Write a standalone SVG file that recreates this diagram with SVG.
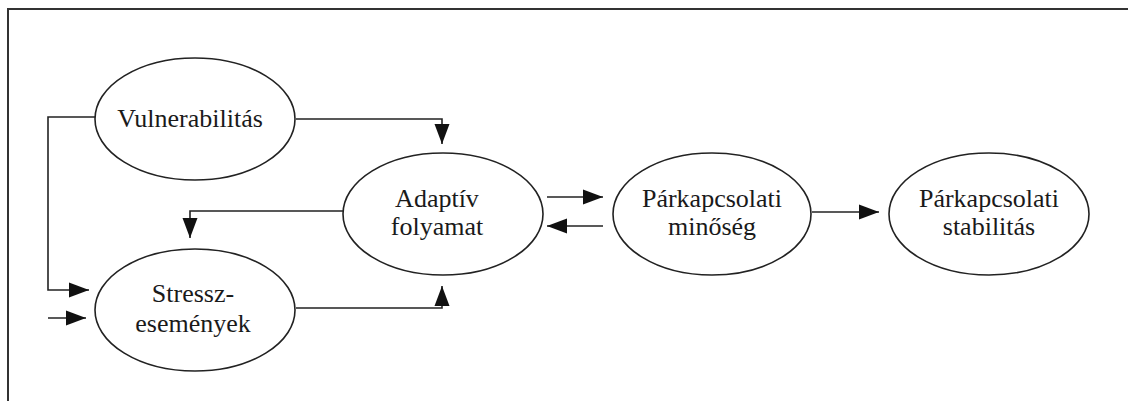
<svg xmlns="http://www.w3.org/2000/svg" width="1128" height="401" viewBox="0 0 1128 401">
<style>
.node ellipse{fill:#fff;stroke:#222;stroke-width:1.6}
.node text{font-family:'Liberation Serif','Tinos','Times New Roman','DejaVu Serif',serif;font-size:26px;fill:#1a1a1a;text-anchor:middle}
.conn path{fill:none;stroke:#222;stroke-width:1.6}
.frame{fill:none;stroke:#333;stroke-width:2}
</style>
<defs>
<marker id="arr" markerUnits="userSpaceOnUse" markerWidth="21" markerHeight="18" refX="20" refY="9" orient="auto">
<path d="M0,1.5 L20,9 L0,16.5 z" fill="#111"/>
</marker>
</defs>
<rect width="1128" height="401" fill="#fff"/>
<path class="frame" d="M8,401 V9 H1128"/>
<g class="conn">
<path d="M95,117 H48 V290 H89" marker-end="url(#arr)"/>
<path d="M48,318 H86" marker-end="url(#arr)"/>
<path d="M296,119 H442 V144" marker-end="url(#arr)"/>
<path d="M343,211 H190 V238" marker-end="url(#arr)"/>
<path d="M296,308 H442 V286" marker-end="url(#arr)"/>
<path d="M547,197 H603" marker-end="url(#arr)"/>
<path d="M603,226 H547" marker-end="url(#arr)"/>
<path d="M812,212 H879" marker-end="url(#arr)"/>
</g>
<g class="node" id="vulnerabilitas">
<ellipse cx="195" cy="119" rx="100" ry="61"/>
<text x="190" y="127">Vulnerabilitás</text>
</g>
<g class="node" id="stressz">
<ellipse cx="195" cy="310" rx="100" ry="61"/>
<text x="193" y="302">Stressz-</text>
<text x="193" y="332">események</text>
</g>
<g class="node" id="adaptiv">
<ellipse cx="443" cy="214" rx="100" ry="61"/>
<text x="437" y="207">Adaptív</text>
<text x="437" y="235">folyamat</text>
</g>
<g class="node" id="minoseg">
<ellipse cx="712" cy="214" rx="99" ry="61"/>
<text x="712" y="207">Párkapcsolati</text>
<text x="712" y="235">minőség</text>
</g>
<g class="node" id="stabilitas">
<ellipse cx="989" cy="214" rx="100" ry="61"/>
<text x="989" y="207">Párkapcsolati</text>
<text x="989" y="235">stabilitás</text>
</g>
</svg>
